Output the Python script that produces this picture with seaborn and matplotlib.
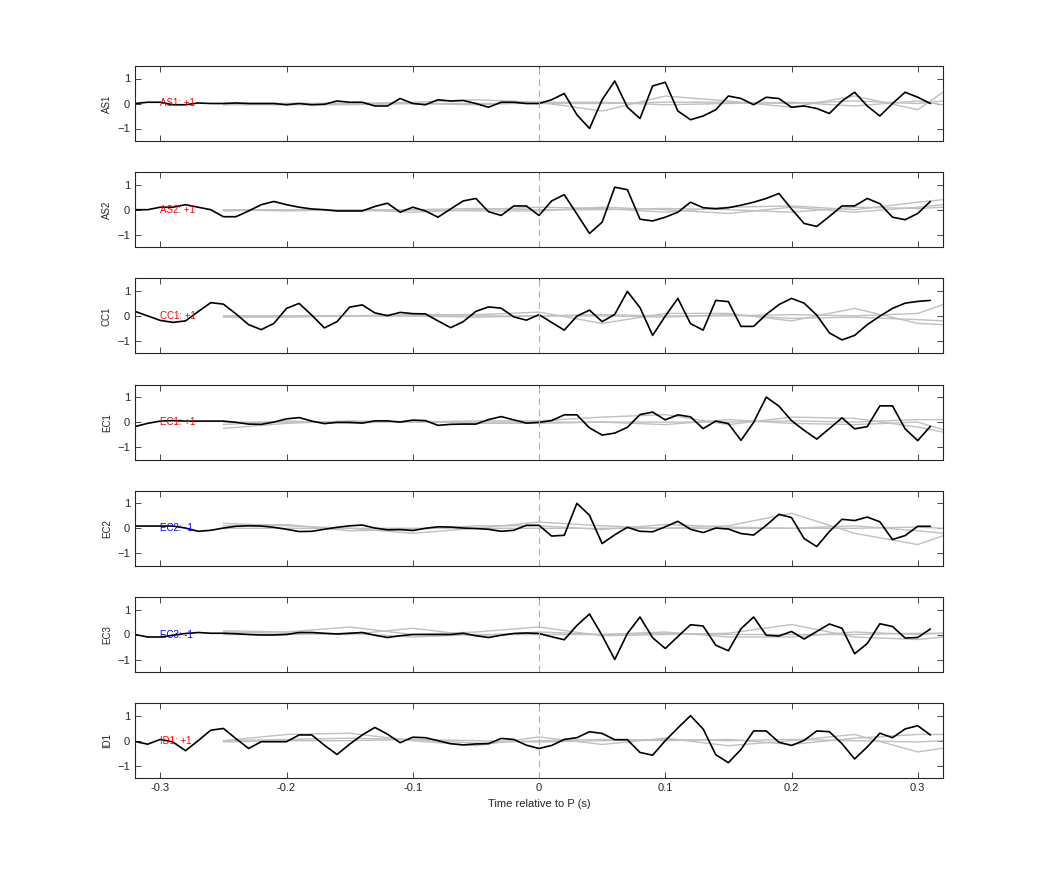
import numpy as np
import pandas as pd
import matplotlib
matplotlib.use('Agg')
import matplotlib.pyplot as plt
import seaborn as sns

sns.set_style('ticks')
plt.rcParams['font.family'] = ['Liberation Sans', 'DejaVu Sans']

# sample times of the black trace (s), every 10 ms
times = [round(-0.32 + 0.01 * i, 2) for i in range(64)]
# times of the grey template traces
gray_times = [-0.25, -0.2, -0.15, -0.1, -0.05, 0.0, 0.05, 0.1, 0.15, 0.2, 0.25, 0.3, 0.32]

stations = ['AS1', 'AS2', 'CC1', 'EC1', 'EC2', 'EC3', 'ID1']
polarity = ['+1', '+1', '+1', '+1', '-1', '-1', '+1']

as1 = [0, 0.05, 0.05, -0.05, -0.05, 0.02, 0, 0, 0.02, 0, 0, 0, -0.05, 0, -0.05, -0.03,
       0.1, 0.05, 0.05, -0.1, -0.1, 0.2, 0, -0.05, 0.15, 0.1, 0.12, 0, -0.15, 0.05, 0.05, 0,
       0, 0.15, 0.4, -0.45, -1.0, 0.15, 0.9, -0.15, -0.6, 0.7, 0.85, -0.3, -0.65, -0.5, -0.25, 0.3,
       0.2, -0.05, 0.25, 0.2, -0.15, -0.1, -0.2, -0.4, 0.1, 0.45, -0.1, -0.5, 0, 0.45, 0.25, 0]
as2 = [0, 0, 0.1, 0.1, 0.2, 0.1, 0, -0.28, -0.28, -0.05, 0.2, 0.33, 0.2, 0.1, 0.03, 0,
       -0.05, -0.05, -0.05, 0.13, 0.26, -0.1, 0.1, -0.05, -0.3, 0.03, 0.35, 0.45, -0.08, -0.23, 0.15, 0.15,
       -0.23, 0.35, 0.6, -0.17, -0.95, -0.5, 0.9, 0.8, -0.38, -0.45, -0.3, -0.1, 0.3, 0.08, 0.04, 0.08,
       0.18, 0.3, 0.45, 0.65, 0.03, -0.55, -0.67, -0.27, 0.15, 0.15, 0.45, 0.24, -0.3, -0.4, -0.15, 0.33]
cc1 = [0.18, 0, -0.18, -0.26, -0.2, 0.17, 0.53, 0.47, 0.08, -0.35, -0.55, -0.3, 0.3, 0.5, 0.03, -0.48,
       -0.23, 0.35, 0.44, 0.12, 0.01, 0.14, 0.09, 0.08, -0.2, -0.47, -0.23, 0.18, 0.36, 0.31, -0.04, -0.17,
       0.05, -0.26, -0.57, -0.01, 0.23, -0.23, 0.06, 0.98, 0.33, -0.78, -0.01, 0.7, -0.31, -0.57, 0.62, 0.57,
       -0.42, -0.42, 0.06, 0.45, 0.7, 0.51, 0.03, -0.68, -0.96, -0.78, -0.35, -0.01, 0.3, 0.51, 0.58, 0.62]
ec1 = [-0.18, -0.05, 0.04, 0.06, 0.04, 0.04, 0.04, 0.04, -0.01, -0.08, -0.09, 0, 0.13, 0.18, 0.04, -0.06,
       -0.01, -0.01, -0.04, 0.05, 0.05, 0, 0.08, 0.06, -0.13, -0.09, -0.08, -0.08, 0.1, 0.22, 0.09, -0.04,
       -0.01, 0.06, 0.29, 0.29, -0.23, -0.52, -0.44, -0.21, 0.3, 0.4, 0.09, 0.29, 0.21, -0.26, 0.04, -0.06,
       -0.73, -0.01, 1.0, 0.64, 0.06, -0.33, -0.68, -0.26, 0.17, -0.27, -0.18, 0.65, 0.65, -0.27, -0.74, -0.17]
ec2 = [0.09, 0.09, 0.09, 0.09, 0.01, -0.12, -0.08, 0.01, 0.08, 0.1, 0.09, 0.04, -0.04, -0.13, -0.12, -0.04,
       0.04, 0.1, 0.13, 0.01, -0.06, -0.05, -0.09, 0, 0.06, 0.05, 0.01, -0.01, -0.04, -0.12, -0.08, 0.12,
       0.12, -0.31, -0.28, 1.0, 0.52, -0.61, -0.26, 0.04, -0.12, -0.14, 0.06, 0.28, -0.04, -0.17, 0.01, -0.03,
       -0.21, -0.27, 0.12, 0.56, 0.43, -0.41, -0.73, -0.13, 0.36, 0.31, 0.45, 0.26, -0.45, -0.29, 0.08, 0.08]
ec3 = [0, -0.1, -0.1, -0.03, 0.04, 0.08, 0.05, 0.05, 0.03, 0, -0.02, -0.02, 0, 0.08, 0.08, 0.05,
       0.02, 0.05, 0.08, -0.03, -0.12, -0.05, 0, 0, 0, 0, 0.05, -0.05, -0.12, -0.03, 0.04, 0.06,
       0.04, -0.09, -0.21, 0.36, 0.82, -0.04, -1.0, 0.04, 0.7, -0.13, -0.56, -0.08, 0.39, 0.34, -0.43, -0.65,
       0.23, 0.7, -0.03, -0.06, 0.12, -0.18, 0.12, 0.42, 0.25, -0.77, -0.36, 0.43, 0.32, -0.14, -0.12, 0.22]
id1 = [-0.03, -0.14, 0.05, -0.05, -0.4, 0, 0.42, 0.49, 0.08, -0.31, -0.04, -0.04, -0.04, 0.23, 0.23, -0.18,
       -0.55, -0.14, 0.23, 0.53, 0.26, -0.08, 0.14, 0.12, 0, -0.12, -0.17, -0.13, -0.12, 0.09, 0.05, -0.18,
       -0.31, -0.19, 0.05, 0.12, 0.36, 0.29, 0.04, 0.04, -0.47, -0.58, 0, 0.51, 1.0, 0.47, -0.56, -0.88,
       -0.35, 0.39, 0.39, -0.06, -0.19, 0.01, 0.39, 0.36, -0.12, -0.73, -0.25, 0.3, 0.12, 0.47, 0.6, 0.23]
black = [as1, as2, cc1, ec1, ec2, ec3, id1]

# grey traces (three per station)
gray = {
    'AS1': [[0, 0, 0, 0.05, 0.15, 0.05, -0.3, 0.3, 0.1, -0.15, 0.3, -0.25, 0.45],
            [0, 0, 0, 0, 0, 0, 0, 0.05, 0.05, 0, 0.1, 0, 0.1],
            [-0.05, -0.05, -0.05, 0, -0.05, 0.05, 0.05, -0.05, 0, 0.05, -0.1, 0.1, -0.05]],
    'AS2': [[0, -0.05, 0, -0.1, 0, 0.1, 0.05, -0.1, 0.1, 0.15, 0, 0.3, 0.4],
            [0, 0, 0, 0, 0.05, 0, 0, 0.05, 0, -0.1, 0.1, 0.05, 0.1],
            [-0.05, 0, -0.05, 0, -0.05, -0.05, 0.1, 0, -0.15, 0.1, -0.1, 0.1, 0.2]],
    'CC1': [[0, 0, 0, 0.05, 0.05, 0.15, -0.3, 0.1, 0.1, -0.2, 0.3, -0.3, -0.35],
            [0, 0, 0, 0, 0, 0, 0.05, 0, 0, 0.05, 0, 0.1, 0.45],
            [-0.05, -0.05, 0, 0, -0.05, 0, 0, -0.05, 0.05, -0.1, -0.05, -0.15, -0.2]],
    'EC1': [[-0.25, -0.05, 0.05, 0, 0.05, 0.05, 0.2, 0.3, -0.1, 0.2, 0.15, -0.2, -0.4],
            [0, 0, 0, 0, 0, 0, 0, 0, 0, 0.05, 0, 0.1, 0.1],
            [-0.1, 0.05, -0.05, 0.05, -0.05, -0.05, 0, -0.1, 0.1, -0.05, -0.1, 0, -0.3]],
    'EC2': [[0.2, 0.1, 0, -0.2, 0, 0.25, 0.1, 0, 0.1, 0.6, -0.2, -0.65, -0.3],
            [0.1, 0.15, -0.1, -0.05, 0.1, 0.1, -0.05, 0.15, 0.05, 0, 0.1, -0.1, -0.2],
            [0, 0, 0, 0, 0, 0, 0, 0, 0, 0, 0, 0.05, 0]],
    'EC3': [[0.15, 0.1, 0.3, 0, 0.1, 0.3, -0.05, 0, 0.05, 0.4, -0.1, -0.2, -0.1],
            [0.1, 0.05, 0, 0.25, -0.05, 0.1, 0, 0.1, -0.1, -0.1, 0.1, 0, 0.05],
            [0, 0, 0.05, -0.1, 0, 0, 0, 0.05, 0, 0, 0, 0.05, 0.05]],
    'ID1': [[0, 0.25, 0.3, 0, -0.2, 0.15, -0.15, 0.1, -0.2, 0, 0.25, -0.45, -0.3],
            [0, 0.05, 0.1, 0.05, -0.1, 0, 0.05, 0, 0.05, -0.15, 0.1, 0.25, 0.25],
            [-0.05, 0, 0, 0.05, 0, -0.05, 0, 0.05, 0, 0.05, 0, -0.05, 0]],
}

fig = plt.figure(figsize=(10.42, 8.75), dpi=100)
W, H = 1042, 875
for i, st in enumerate(stations):
    top = 66 + 106.2 * i
    ax = fig.add_axes([135 / W, 1 - (top + 75) / H, 808 / W, 75 / H])
    for k, g in enumerate(gray[st]):
        sns.lineplot(x=gray_times, y=g, ax=ax, color='#c0c0c0', lw=1.0)
    sns.lineplot(x=times, y=black[i], ax=ax, color='black', lw=1.2)
    ax.axvline(0, color='#d8a0a0', ls=(0, (6, 4)), lw=0.8)
    col = 'blue' if polarity[i] == '-1' else 'red'
    ax.text(-0.3, 0, f'{st}: {polarity[i]}', color=col, fontsize=7, va='center', ha='left')
    ax.set_xlim(-0.32, 0.32)
    ax.set_ylim(-1.5, 1.5)
    ax.set_yticks([-1, 0, 1])
    ax.set_xticks([-0.3, -0.2, -0.1, 0, 0.1, 0.2, 0.3])
    ax.set_xticklabels(['-0.3', '-0.2', '-0.1', '0', '0.1', '0.2', '0.3'])
    ax.tick_params(direction='in', top=True, right=True, labelsize=8, length=4, width=0.6)
    ax.set_ylabel(st, fontsize=7)
    for s in ax.spines.values():
        s.set_linewidth(0.8)
    if i < len(stations) - 1:
        ax.set_xticklabels([])
    else:
        ax.set_xlabel('Time relative to P (s)', fontsize=8)

fig.savefig('out.png', dpi=100)
